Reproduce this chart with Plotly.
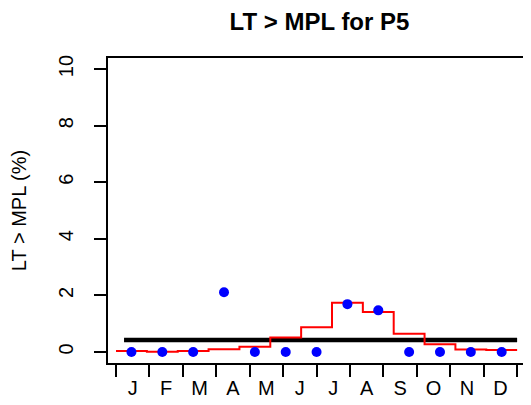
import plotly.graph_objects as go

# 13 four-week periods across the year
periods = list(range(1, 14))
lt_pct = [0, 0, 0, 2.11, 0, 0, 0, 1.69, 1.47, 0, 0, 0, 0]
step_pct = [0.03, 0.01, 0.03, 0.10, 0.18, 0.51, 0.87, 1.74, 1.41, 0.64, 0.27, 0.09, 0.07]
mpl_x = [0.76, 13.5]
mpl_level = [0.42, 0.42]
months = ["J", "F", "M", "A", "M", "J", "J", "A", "S", "O", "N", "D"]
yticks = [0, 2, 4, 6, 8, 10]

# month boundaries spread over the 13 periods
edges = [0.5 + k * 13 / 12 for k in range(13)]
mids = [(edges[k] + edges[k + 1]) / 2 for k in range(12)]

step_x = [p - 0.5 for p in periods] + [periods[-1] + 0.5]
step_y = step_pct + [step_pct[-1]]

FONT = "Liberation Sans, Arial, sans-serif"
xr = [0.24, 13.95]

# page body has an 8px margin, so the figure is 8px smaller each way
W, H = 523, 397

fig = go.Figure()
fig.add_trace(go.Scatter(x=mpl_x, y=mpl_level, mode="lines",
                         line=dict(color="black", width=4.5), hoverinfo="skip"))
fig.add_trace(go.Scatter(x=step_x, y=step_y, mode="lines", line_shape="hv",
                         line=dict(color="red", width=2)))
fig.add_trace(go.Scatter(x=periods, y=lt_pct, mode="markers",
                         marker=dict(color="blue", size=10)))

fig.update_layout(
    width=W, height=H,
    margin=dict(l=100, r=0, t=50, b=42, autoexpand=False),
    paper_bgcolor="white", plot_bgcolor="white",
    showlegend=False,
    font=dict(family=FONT, size=20, color="black"),
    title=dict(text="<b>LT &gt; MPL for P5</b>", x=0.5, xanchor="center",
               xref="paper", y=1 - 14 / H, yanchor="middle", yref="container",
               font=dict(size=24, family=FONT)),
    xaxis=dict(range=xr, tickvals=edges, showticklabels=False,
               ticks="outside", ticklen=12, tickwidth=1.5, tickcolor="black",
               showline=True, linecolor="black", linewidth=1.5, mirror=True,
               showgrid=False, zeroline=False, automargin=False),
    xaxis2=dict(range=xr, overlaying="x", side="bottom", tickvals=mids,
                ticktext=months, ticks="outside", ticklen=7,
                tickcolor="rgba(0,0,0,0)", showline=False, showgrid=False,
                zeroline=False, tickfont=dict(size=20), automargin=False),
    yaxis=dict(range=[-0.39, 10.39], tickvals=yticks, tickangle=-90,
               ticks="outside", ticklen=12, tickwidth=1.5, tickcolor="black",
               showline=True, linecolor="black", linewidth=1.5, mirror=False,
               showgrid=False, zeroline=False, tickfont=dict(size=20),
               ticklabelstandoff=13, automargin=False,
               title=dict(text="LT &gt; MPL (%)", standoff=24,
                          font=dict(size=20))),
)
# dummy trace so xaxis2 is drawn
fig.add_trace(go.Scatter(x=[None], y=[None], xaxis="x2", showlegend=False))

fig.write_html("out.html")
